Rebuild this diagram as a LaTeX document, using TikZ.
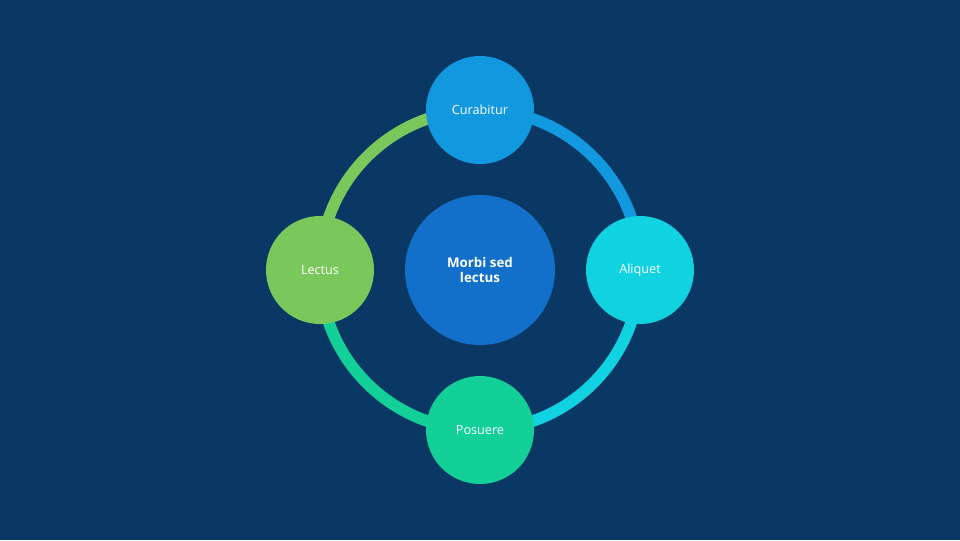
\documentclass[tikz,border=0pt]{standalone}
\usepackage{fontspec}
\setmainfont{Open Sans}
\usepackage{tikz}
\usetikzlibrary{positioning}
\usetikzlibrary{backgrounds}
\usepackage{xcolor}

\definecolor{bgnavy}{RGB}{10,56,100}
\definecolor{curblue}{RGB}{18,152,222}
\definecolor{alicyan}{RGB}{16,210,225}
\definecolor{lecgreen}{RGB}{122,200,92}
\definecolor{posteal}{RGB}{18,208,152}
\definecolor{midblue}{RGB}{18,112,202}

\tikzset{
  petal/.style={circle, minimum size=2.7cm, inner sep=0pt, text=white, font=\fontsize{9}{11}\selectfont},
  hub/.style={circle, minimum size=3.75cm, inner sep=0pt, text=white, align=center, font=\fontsize{9.5}{10.5}\selectfont\bfseries},
  ring/.style={line width=0.29cm}
}

\begin{document}
\begin{tikzpicture}

\useasboundingbox (0,0) rectangle (24,13.5);

% nodes
\node[hub, fill=midblue] (hub) at (12,6.75) {Morbi sed\\lectus};

\node[petal, fill=curblue] (cur) at (12,10.75) {Curabitur};
\node[petal, fill=alicyan] (ali) at (16,6.75) {Aliquet};
\node[petal, fill=posteal] (pos) at (12,2.75) {Posuere};
\node[petal, fill=lecgreen] (lec) at (8,6.75) {Lectus};

% ring behind the nodes
\begin{scope}[on background layer]
{
\fill[bgnavy] (0,0) rectangle (24,13.5);

\draw[ring, curblue] (cur.center) arc[start angle=90, end angle=0, radius=4cm];
\draw[ring, alicyan] (ali.center) arc[start angle=0, end angle=-90, radius=4cm];
\draw[ring, posteal] (pos.center) arc[start angle=-90, end angle=-180, radius=4cm];
\draw[ring, lecgreen] (lec.center) arc[start angle=180, end angle=90, radius=4cm];
}
\end{scope}

\end{tikzpicture}
\end{document}
